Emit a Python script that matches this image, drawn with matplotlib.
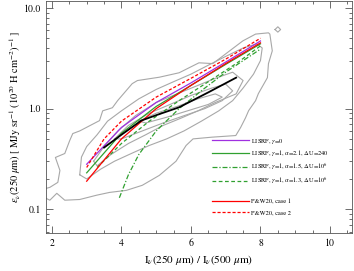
import matplotlib

matplotlib.use("Agg")

import matplotlib.pyplot as plt
from matplotlib.ticker import FixedLocator, MultipleLocator, NullFormatter

# model curves: colour ratio vs emissivity
x_lisrf = [3.0, 4.0, 5.0, 6.0, 7.0, 8.0]
y_gamma0 = [0.28, 0.65, 1.15, 1.8, 2.9, 4.7]
y_a21 = [0.23, 0.57, 1.05, 1.7, 2.75, 4.4]

x_a15 = [3.94, 4.2, 4.5, 5.0, 5.66, 6.4, 7.0, 8.0]
y_a15 = [0.13, 0.22, 0.35, 0.6, 1.0, 1.6, 2.3, 3.9]

x_a13 = [3.3, 4.0, 4.8, 5.66, 6.5, 7.3, 8.0]
y_a13 = [0.26, 0.45, 0.75, 1.2, 1.85, 2.8, 4.2]

x_pw1 = [3.0, 4.0, 5.0, 6.0, 7.0, 8.0]
y_pw1 = [0.19, 0.5, 1.0, 1.7, 2.8, 4.5]
x_pw2 = [3.0, 3.5, 4.0, 5.0, 6.0, 7.0, 8.0]
y_pw2 = [0.26, 0.5, 0.75, 1.3, 2.0, 3.1, 5.0]

# observed median relation
x_obs = [3.5, 4.0, 4.57, 5.0, 5.66, 6.5, 7.3]
y_obs = [0.41, 0.55, 0.76, 0.86, 1.03, 1.45, 2.03]

# density contours (outer to inner)
c1_x = [1.8, 1.94, 2.14, 2.37, 2.8, 3.29, 3.66, 4.14, 4.6, 5.09, 5.57, 5.86, 6.06, 6.6,
        7.29, 7.43, 7.57, 7.66, 7.86, 7.94, 8.2, 8.23, 8.34, 8.27, 8.23, 7.86, 7.49,
        6.63, 6.23, 5.66, 5.09, 4.46, 4.31, 3.89, 3.74, 3.46, 3.37, 2.8, 2.6, 2.51,
        2.37, 2.1, 2.23, 2.17, 1.94, 1.8]
c1_y = [0.13, 0.123, 0.144, 0.123, 0.125, 0.138, 0.147, 0.154, 0.173, 0.217, 0.3, 0.43,
        0.5, 0.52, 0.54, 0.65, 0.81, 0.955, 1.2, 1.41, 2.03, 2.8, 3.75, 5.5, 5.66, 5.5,
        4.7, 2.8, 2.85, 2.27, 2.05, 1.9, 1.77, 1.2, 1.02, 0.95, 0.76, 0.6, 0.565, 0.48,
        0.358, 0.327, 0.243, 0.185, 0.165, 0.16]
blob_x = [8.42, 8.5, 8.58, 8.5, 8.42]
blob_y = [6.1, 6.5, 6.1, 5.75, 6.1]

c2_x = [2.8, 2.85, 3.0, 3.3, 3.6, 4.0, 4.5, 5.0, 5.5, 6.0, 6.5, 7.0, 7.5, 7.9, 8.05,
        8.0, 7.8, 7.5, 7.2, 6.8, 6.3, 5.8, 5.3, 4.8, 4.3, 3.8, 3.4, 3.0, 2.8]
c2_y = [0.22, 0.33, 0.42, 0.55, 0.75, 0.95, 1.25, 1.55, 1.85, 2.2, 2.7, 3.3, 4.0, 4.4,
        4.0, 3.0, 2.2, 1.6, 1.2, 0.95, 0.75, 0.6, 0.5, 0.43, 0.36, 0.3, 0.25, 0.2, 0.22]

c3_x = [3.2, 3.5, 3.9, 4.4, 5.0, 5.6, 6.2, 6.7, 7.2, 7.5, 7.3, 6.7, 6.2, 5.7, 5.2, 4.7,
        4.2, 3.7, 3.3, 3.2]
c3_y = [0.3, 0.42, 0.6, 0.85, 1.15, 1.4, 1.7, 2.0, 2.3, 1.9, 1.4, 1.15, 0.95, 0.8, 0.68,
        0.55, 0.45, 0.35, 0.27, 0.3]

c4_x = [3.8, 4.2, 4.8, 5.4, 6.0, 6.6, 7.0, 7.2, 6.9, 6.4, 5.8, 5.2, 4.6, 4.0, 3.8]
c4_y = [0.5, 0.68, 0.9, 1.1, 1.35, 1.6, 1.75, 1.5, 1.2, 1.0, 0.85, 0.72, 0.6, 0.5, 0.5]

c5_x = [4.5, 5.0, 5.6, 6.2, 6.7, 6.9, 6.5, 5.9, 5.3, 4.7, 4.5]
c5_y = [0.75, 0.9, 1.05, 1.25, 1.4, 1.3, 1.1, 0.95, 0.82, 0.72, 0.75]

contours = [(c1_x, c1_y), (blob_x, blob_y), (c2_x, c2_y), (c3_x, c3_y),
            (c4_x, c4_y), (c5_x, c5_y)]

plt.rcParams["font.family"] = ["STIXGeneral", "DejaVu Serif"]
plt.rcParams["mathtext.fontset"] = "stix"

fig = plt.figure(figsize=(3.54, 2.71), dpi=100)
ax = fig.add_axes([0.13, 0.14, 0.864, 0.856])

for cx, cy in contours:
    ax.plot(cx, cy, color="#a8a8a8", lw=0.8)

purple = "#a030e0"
green = "#30a030"
lisrf_lines = [
    ax.plot(x_lisrf, y_gamma0, color=purple, lw=0.9, label=r"LISRF, $\gamma$=0")[0],
    ax.plot(x_lisrf, y_a21, color=green, lw=0.9,
            label=r"LISRF, $\gamma$=1, $\alpha$=2.1, $\Delta$U=240")[0],
    ax.plot(x_a15, y_a15, color=green, lw=0.9, ls=(0, (4, 1.5, 1, 1.5)),
            label=r"LISRF, $\gamma$=1, $\alpha$=1.5, $\Delta$U=10$^6$")[0],
    ax.plot(x_a13, y_a13, color=green, lw=0.9, ls=(0, (3, 2)),
            label=r"LISRF, $\gamma$=1, $\alpha$=1.3, $\Delta$U=10$^6$")[0],
]
pw_lines = [
    ax.plot(x_pw1, y_pw1, color="red", lw=0.9, label="P&W20, case 1")[0],
    ax.plot(x_pw2, y_pw2, color="red", lw=0.9, ls=(0, (2.5, 1.5)), label="P&W20, case 2")[0],
]
ax.plot(x_obs, y_obs, color="black", lw=1.3)

ax.set_yscale("log")
ax.set_xlim(1.83, 10.63)
ax.set_ylim(0.058, 11.7)
ax.xaxis.set_major_locator(MultipleLocator(2))
ax.xaxis.set_minor_locator(MultipleLocator(0.5))
ax.yaxis.set_major_locator(FixedLocator([0.1, 1.0, 10.0]))
ax.set_yticklabels(["0.1", "1.0", "10.0"])
ax.yaxis.set_minor_formatter(NullFormatter())
ax.tick_params(which="both", direction="in", top=True, right=True, labelsize=7,
               width=0.6, color="#555555")
ax.tick_params(which="major", length=5)
ax.tick_params(which="minor", length=2.5)
for s in ax.spines.values():
    s.set_linewidth(0.6)
    s.set_color("#555555")

ax.set_xlabel(r"I$_\nu$(250 $\mu$m) / I$_\nu$(500 $\mu$m)", fontsize=8, labelpad=4)
ax.set_ylabel(r"$\epsilon_\nu$(250 $\mu$m) [ MJy sr$^{-1}$ (10$^{20}$ H cm$^{-2}$)$^{-1}$ ]",
              fontsize=7.5, labelpad=1)

leg_kw = dict(loc="upper left", frameon=False, fontsize=4.6, handlelength=5.8,
              handletextpad=0.3, borderaxespad=0)
leg1 = ax.legend(handles=lisrf_lines, bbox_to_anchor=(0.534, 0.427), labelspacing=0.45,
                 **leg_kw)
ax.add_artist(leg1)
ax.legend(handles=pw_lines, bbox_to_anchor=(0.534, 0.16), labelspacing=0.95, **leg_kw)

fig.savefig("out.png", dpi=100)
